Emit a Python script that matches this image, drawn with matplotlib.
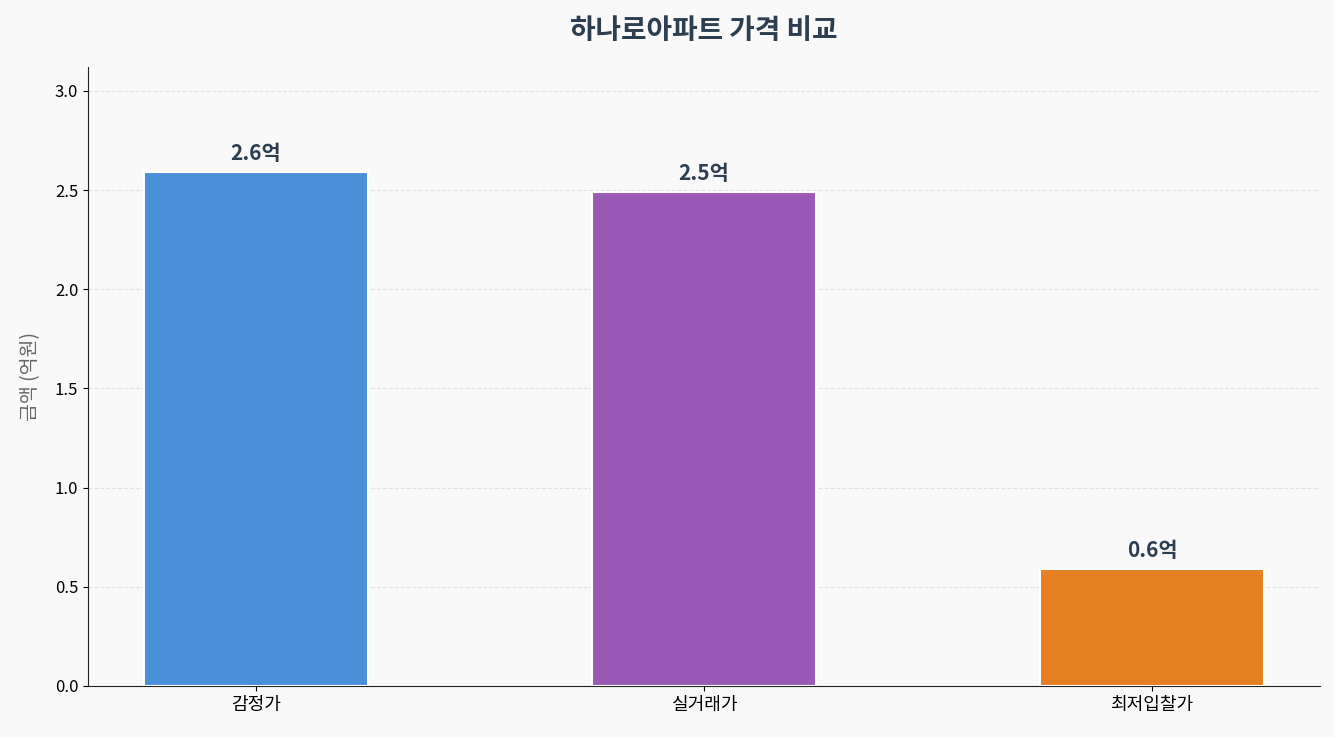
import matplotlib

matplotlib.use("Agg")

import matplotlib.pyplot as plt  # noqa: E402

plt.rcParams["font.family"] = ["Noto Sans CJK KR", "DejaVu Sans"]

CATEGORIES = ["감정가", "실거래가", "최저입찰가"]
VALUES = [2.59, 2.49, 0.59]
LABELS = ["2.6억", "2.5억", "0.6억"]
COLORS = ["#4a90d9", "#9b59b6", "#e67e22"]
TITLE = "하나로아파트 가격 비교"
Y_LABEL = "금액 (억원)"


def main() -> None:
    fig = plt.figure(figsize=(13.34, 7.37), dpi=100, facecolor="#f9f9f9")
    ax = fig.add_axes([0.066, 0.0692, 0.9235, 0.8398])
    ax.set_facecolor("#f9f9f9")

    bars = ax.bar(CATEGORIES, VALUES, width=0.5, color=COLORS,
                  edgecolor="white", linewidth=1.5, zorder=3)
    for bar, label in zip(bars, LABELS):
        ax.annotate(label, (bar.get_x() + bar.get_width() / 2, bar.get_height()),
                    xytext=(0, 6), textcoords="offset points", ha="center",
                    va="bottom", fontsize=15, fontweight="bold", color="#2c3e50")

    ax.set_ylim(0, 3.12)
    ax.set_yticks([0, 0.5, 1.0, 1.5, 2.0, 2.5, 3.0])
    ax.yaxis.grid(True, linestyle="--", color="#dddddd", alpha=0.8, zorder=0)
    ax.set_axisbelow(True)
    ax.spines["top"].set_visible(False)
    ax.spines["right"].set_visible(False)
    ax.spines["left"].set_color("#222222")
    ax.spines["bottom"].set_color("#222222")
    ax.tick_params(axis="y", labelsize=12)
    ax.tick_params(axis="x", labelsize=13)
    ax.set_ylabel(Y_LABEL, fontsize=14, color="#666666", labelpad=10)
    ax.set_title(TITLE, fontsize=20, fontweight="bold", color="#2c3e50", pad=20)

    fig.savefig("out.png", dpi=100, facecolor=fig.get_facecolor())
    plt.close(fig)


if __name__ == "__main__":
    main()
